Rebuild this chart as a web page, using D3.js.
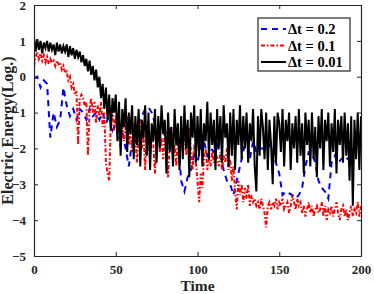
<!DOCTYPE html>
<html>
<head>
<meta charset="UTF-8" />
<script src="https://d3js.org/d3.v7.min.js"></script>
<style>
  body { margin: 0; background: #fff; }
  svg { font-family: "Liberation Serif", "Times New Roman", serif; font-weight: bold; }
  .axis path, .axis line { stroke: #262626; }
  .axis text { fill: #262626; font-size: 13px; font-family: "Liberation Serif", serif; font-weight: bold; }
</style>
</head>
<body>
<svg width="374" height="294"></svg>
<script>
// time steps of the sampled curves
const stepBlack = 1, stepRed = 1, stepBlue = 2;

// Δt = 0.01
const black = [
  1.1, 0.7, 1.05, 0.75, 1.0, 0.65, 0.95, 0.8, 1.0, 0.7,
  0.95, 0.75, 0.9, 0.6, 0.95, 0.7, 0.9, 0.65, 0.85, 0.7,
  0.9, 0.55, 0.85, 0.6, 0.8, 0.5, 0.75, 0.55, 0.7, 0.4,
  0.6, 0.3, 0.5, 0.15, 0.45, 0.05, 0.3, -0.1, 0.2, -0.3,
  0.0, -0.6, -0.2, -0.9, -0.3, -1.2, -0.5, -1.5, -0.6, -1.0,
  -0.5, -1.8, -0.7, -2.2, -0.9, -1.4, -0.6, -2.1, -1.0, -1.6,
  -0.8, -2.3, -1.1, -1.9, -0.9, -2.5, -1.2, -1.7, -0.8, -2.2,
  -1.0, -2.6, -1.3, -1.8, -0.9, -2.4, -1.1, -2.0, -0.8, -1.6,
  -1.2, -2.7, -1.0, -2.1, -1.4, -2.5, -0.9, -1.9, -1.3, -2.6,
  -1.1, -2.3, -0.8, -2.0, -1.2, -2.8, -1.0, -1.7, -0.8, -2.4,
  -1.1, -2.2, -0.9, -2.5, -1.3, -1.8, -0.7, -2.3, -1.0, -1.9,
  -1.2, -2.6, -0.9, -2.0, -1.1, -2.4, -0.8, -1.7, -1.3, -2.5,
  -1.0, -2.2, -0.9, -2.6, -1.2, -1.9, -0.8, -2.3, -1.1, -2.0,
  -1.0, -2.4, -1.3, -1.8, -0.9, -2.5, -3.2, -1.1, -2.2, -0.9,
  -1.4, -2.3, -1.0, -2.6, -1.2, -1.9, -3.0, -1.1, -2.4, -1.0,
  -1.3, -2.1, -0.9, -2.5, -1.2, -1.8, -1.0, -2.6, -1.3, -2.0,
  -1.1, -2.4, -0.9, -2.2, -1.3, -2.7, -1.0, -1.9, -1.2, -2.5,
  -1.0, -2.3, -1.4, -2.8, -1.1, -2.0, -0.9, -2.6, -1.2, -1.8,
  -1.0, -2.5, -1.3, -2.1, -0.9, -2.7, -1.2, -1.9, -1.1, -2.4,
  -1.0, -2.2, -1.3, -2.9, -1.1, -3.6, -1.2, -2.3, -1.0, -2.6, -1.1
];

// Δt = 0.1
const red = [
  0.3, 0.55, 0.7, 0.5, 0.65, 0.45, 0.6, 0.4, 0.55, 0.35,
  0.5, 0.4, 0.45, 0.3, 0.45, 0.35, 0.4, 0.2, 0.3, 0.1,
  0.15, -0.1, 0.0, -0.3, -0.2, -0.5, -0.4, -1.9, -0.6, -0.5,
  -0.6, -0.8, -0.7, -2.2, -0.9, -0.6, -1.0, -0.7, -1.3, -0.8,
  -1.1, -0.7, -1.4, -1.0, -2.4, -2.7, -2.9, -1.2, -0.9, -1.5,
  -1.1, -1.6, -1.3, -2.0, -1.2, -1.8, -1.4, -1.1, -1.9, -1.5,
  -2.1, -1.3, -1.7, -2.4, -1.5, -1.2, -2.0, -1.6, -2.6, -1.4,
  -1.8, -2.2, -1.5, -1.9, -2.7, -1.6, -1.3, -2.1, -1.7, -2.3,
  -1.5, -2.0, -2.8, -1.8, -1.4, -2.2, -1.9, -2.5, -1.7, -2.3,
  -1.6, -2.0, -1.5, -2.2, -1.8, -1.4, -2.1, -2.6, -1.9, -2.4,
  -2.9, -3.5, -2.7, -3.1, -2.2, -2.0, -2.6, -2.3, -2.5, -2.1,
  -2.4, -2.0, -2.3, -2.5, -2.1, -2.6, -2.2, -2.4, -2.0, -2.6,
  -2.3, -2.9, -2.5, -3.2, -3.7, -2.9, -3.3, -3.0, -3.5, -3.1,
  -3.4, -3.0, -3.6, -3.3, -3.5, -3.4, -3.6, -3.5, -3.7, -3.4,
  -3.6, -3.8, -4.2, -3.6, -3.5, -3.7, -3.5, -3.6, -3.4, -3.7,
  -3.5, -3.6, -3.4, -3.7, -3.6, -3.5, -3.8, -3.6, -3.3, -3.5,
  -3.7, -3.4, -3.6, -3.5, -3.8, -3.6, -3.9, -3.7, -3.5, -3.8,
  -3.6, -3.9, -3.7, -3.6, -3.8, -3.7, -3.5, -3.9, -3.6, -4.0,
  -3.7, -3.8, -3.6, -3.9, -3.7, -3.5, -3.8, -4.0, -3.7, -3.6,
  -3.9, -3.7, -4.0, -3.8, -3.6, -3.9, -3.7, -3.8, -3.5, -3.9, -3.6
];

// Δt = 0.2
const blue = [
  -0.05, 0.0, -0.3, -0.1, -0.2, -1.7, -1.0, -1.4, -1.2, -0.3,
  -0.8, -1.1, -0.9, -1.2, -0.9, -1.0, -1.2, -0.9, -1.1, -1.0,
  -1.2, -1.0, -1.3, -1.1, -1.5, -1.3, -1.7, -1.5, -2.0, -2.5,
  -1.8, -1.5, -1.3, -1.1, -0.9, -0.85, -1.0, -1.3, -1.5, -1.25,
  -1.6, -1.4, -1.8, -1.5, -1.6, -2.9, -3.2, -2.8, -2.6, -2.1,
  -2.4, -1.9, -1.8, -2.2, -2.0, -2.1, -1.9, -2.2, -2.6, -2.9,
  -3.0, -3.3, -2.9, -2.5, -2.1, -1.6, -2.3, -1.8, -2.1, -2.0,
  -2.0, -2.1, -1.9, -2.0, -2.4, -2.7, -3.3, -3.2, -3.25, -3.3,
  -3.4, -3.3, -3.1, -2.5, -2.1, -2.1, -2.4, -2.9, -3.1, -3.2,
  -3.4, -2.4, -2.2, -2.4, -2.3, -2.2, -2.3, -2.1, -2.0, -1.95, -2.0
];

const xTicks = [0, 50, 100, 150, 200];
const yTicks = [-5, -4, -3, -2, -1, 0, 1, 2];
const series = [
  { label: "\u0394t = 0.2", values: blue, step: stepBlue, color: "#0000ff", dash: "6,5" },
  { label: "\u0394t = 0.1", values: red, step: stepRed, color: "#ff0000", dash: "4,2,1.5,2" },
  { label: "\u0394t = 0.01", values: black, step: stepBlack, color: "#000000", dash: null }
];

const svg = d3.select("svg");
const m = { left: 34, right: 361, top: 5, bottom: 256 };

const x = d3.scaleLinear().domain([0, 200]).range([m.left, m.right]);
const y = d3.scaleLinear().domain([-5, 2]).range([m.bottom, m.top]);

svg.append("defs").append("clipPath").attr("id", "clip")
  .append("rect")
  .attr("x", m.left).attr("y", m.top)
  .attr("width", m.right - m.left).attr("height", m.bottom - m.top);

const line = d3.line()
  .x(d => x(d[0]))
  .y(d => y(d[1]));

const plot = svg.append("g").attr("clip-path", "url(#clip)");
series.forEach(s => {
  plot.append("path")
    .datum(s.values.map((v, i) => [i * s.step, v]))
    .attr("fill", "none")
    .attr("stroke", s.color)
    .attr("stroke-width", 2)
    .attr("stroke-dasharray", s.dash)
    .attr("d", line);
});

// axes (ticks inside, boxed)
const tl = 4;
const fmt = d3.format("d");
svg.append("g").attr("class", "axis")
  .attr("transform", `translate(0,${m.bottom})`)
  .call(d3.axisBottom(x).tickValues(xTicks).tickFormat(fmt).tickSizeInner(-tl).tickSizeOuter(0).tickPadding(9))
  .call(g => g.select(".domain").attr("stroke-width", 1.2));
svg.append("g").attr("class", "axis")
  .attr("transform", `translate(0,${m.top})`)
  .call(d3.axisTop(x).tickValues(xTicks).tickSizeInner(-tl).tickSizeOuter(0).tickFormat(""))
  .call(g => g.select(".domain").attr("stroke-width", 1.2));
svg.append("g").attr("class", "axis")
  .attr("transform", `translate(${m.left},0)`)
  .call(d3.axisLeft(y).tickValues(yTicks).tickFormat(fmt).tickSizeInner(-tl).tickSizeOuter(0).tickPadding(8))
  .call(g => g.select(".domain").attr("stroke-width", 1.2));
svg.append("g").attr("class", "axis")
  .attr("transform", `translate(${m.right},0)`)
  .call(d3.axisRight(y).tickValues(yTicks).tickSizeInner(-tl).tickSizeOuter(0).tickFormat(""))
  .call(g => g.select(".domain").attr("stroke-width", 1.2));

// axis labels
svg.append("text")
  .attr("x", (m.left + m.right) / 2).attr("y", 291)
  .attr("text-anchor", "middle").attr("font-size", 15.5).attr("fill", "#262626")
  .text("Time");
svg.append("text")
  .attr("transform", `translate(13,${(m.top + m.bottom) / 2}) rotate(-90)`)
  .attr("text-anchor", "middle").attr("font-size", 16).attr("fill", "#262626")
  .text("Electric Energy(Log.)");

// legend
const lg = svg.append("g").attr("transform", "translate(258,18)");
lg.append("rect").attr("width", 92).attr("height", 53)
  .attr("fill", "#fff").attr("stroke", "#262626").attr("stroke-width", 1.2);
series.forEach((s, i) => {
  const cy = 11 + i * 16.5;
  lg.append("line")
    .attr("x1", 3).attr("x2", 28).attr("y1", cy).attr("y2", cy)
    .attr("stroke", s.color).attr("stroke-width", 2)
    .attr("stroke-dasharray", s.dash);
  lg.append("text")
    .attr("x", 30).attr("y", cy + 5)
    .attr("font-size", 14.5).attr("fill", "#000")
    .text(s.label);
});
</script>
</body>
</html>
